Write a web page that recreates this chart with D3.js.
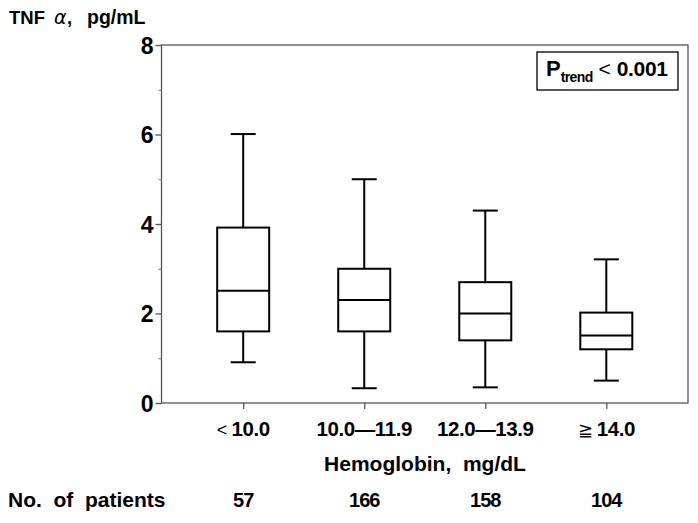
<!DOCTYPE html>
<html><head><meta charset="utf-8">
<script src="https://cdn.jsdelivr.net/npm/d3@7"></script>
<style>body{margin:0;background:#fff}svg{display:block}text{font-family:"Liberation Sans",Arial,sans-serif;font-weight:bold;fill:#000;white-space:pre}</style>
</head><body>
<script>
const categories = ["< 10.0", "10.0\u201411.9", "12.0\u201413.9", "\u2267 14.0"];
const patients = [57, 166, 158, 104];
const whiskerLow = [0.91, 0.33, 0.35, 0.50];
const q1 = [1.60, 1.60, 1.40, 1.20];
const median = [2.51, 2.30, 2.00, 1.51];
const q3 = [3.92, 3.00, 2.70, 2.02];
const whiskerHigh = [6.01, 5.00, 4.30, 3.21];
const yTicks = [0, 2, 4, 6, 8];
const yMinor = [1, 3, 5, 7];

const W = 698, H = 523;
const L = 161.5, R = 688, T = 45, B = 403;
const svg = d3.select("body").append("svg").attr("width", W).attr("height", H);

const x = d3.scalePoint().domain(categories).range([L, R]).padding(0.675);
const y = d3.scaleLinear().domain([0, 8]).range([B, T]);

// frame
svg.append("rect").attr("x", L).attr("y", T).attr("width", R - L).attr("height", B - T)
  .attr("fill", "none").attr("stroke", "#555").attr("stroke-width", 1.3);

// y axis
const ya = svg.append("g").attr("transform", `translate(${L},0)`)
  .call(d3.axisLeft(y).tickValues(yTicks).tickSize(6).tickFormat(d3.format("d")));
ya.select(".domain").remove();
ya.selectAll("line").attr("stroke", "#555").attr("stroke-width", 1.3);
ya.selectAll("text").attr("font-size", 23).attr("x", -8).attr("dy", "0.36em")
  .style("font-family", '"Liberation Sans",Arial,sans-serif').style("font-weight", "bold").attr("fill", "#000");
const ym = svg.append("g").attr("transform", `translate(${L},0)`)
  .call(d3.axisLeft(y).tickValues(yMinor).tickSize(3).tickFormat(""));
ym.select(".domain").remove();
ym.selectAll("line").attr("stroke", "#777").attr("stroke-width", 1);

// x axis
const xa = svg.append("g").attr("transform", `translate(0,${B})`)
  .call(d3.axisBottom(x).tickSize(6).tickFormat(""));
xa.select(".domain").remove();
xa.selectAll("line").attr("stroke", "#555").attr("stroke-width", 1.3);

// x tick labels
svg.append("g").selectAll("text").data(categories).join("text")
  .attr("x", d => x(d)).attr("y", 436).attr("text-anchor", "middle")
  .attr("font-size", 20.5).attr("letter-spacing", -0.4)
  .each(function(d) {
    const t = d3.select(this);
    if (d.startsWith("<") || d.startsWith("\u2267")) {
      t.append("tspan").attr("font-weight", "normal").attr("font-size", 18).text(d[0] + " ");
      t.append("tspan").text(d.slice(2));
    } else t.text(d);
  });

// boxes
const bw = 52, cw = 25;
const g = svg.append("g").attr("stroke", "#000").attr("stroke-width", 2).attr("fill", "none");
categories.forEach((c, i) => {
  const cx = x(c);
  g.append("line").attr("x1", cx).attr("x2", cx).attr("y1", y(whiskerHigh[i])).attr("y2", y(q3[i]));
  g.append("line").attr("x1", cx).attr("x2", cx).attr("y1", y(q1[i])).attr("y2", y(whiskerLow[i]));
  g.append("line").attr("x1", cx - cw / 2).attr("x2", cx + cw / 2).attr("y1", y(whiskerHigh[i])).attr("y2", y(whiskerHigh[i]));
  g.append("line").attr("x1", cx - cw / 2).attr("x2", cx + cw / 2).attr("y1", y(whiskerLow[i])).attr("y2", y(whiskerLow[i]));
  g.append("rect").attr("x", cx - bw / 2).attr("width", bw).attr("y", y(q3[i])).attr("height", y(q1[i]) - y(q3[i]));
  g.append("line").attr("x1", cx - bw / 2).attr("x2", cx + bw / 2).attr("y1", y(median[i])).attr("y2", y(median[i]));
});

// legend box
svg.append("rect").attr("x", 537).attr("y", 52).attr("width", 141).attr("height", 38)
  .attr("fill", "#fff").attr("stroke", "#000").attr("stroke-width", 1.3);
const pt = svg.append("text").attr("x", 546).attr("y", 76).attr("font-size", 22);
pt.append("tspan").text("P");
pt.append("tspan").attr("font-size", 14).attr("dy", 6).attr("letter-spacing", -0.6).text("trend");
pt.append("tspan").attr("dy", -6).attr("font-weight", "normal").attr("font-size", 21).text(" < ");
pt.append("tspan").attr("font-size", 21).attr("letter-spacing", -0.3).text("0.001");

// title
const tt = svg.append("text").attr("y", 24).attr("font-size", 18.5);
tt.append("tspan").attr("x", 9).text("TNF");
tt.append("tspan").attr("x", 54).attr("font-weight", "normal").attr("font-style", "italic").attr("font-size", 19).attr("font-family", "DejaVu Sans").text("\u03b1");
tt.append("tspan").attr("x", 67).text(",");
tt.append("tspan").attr("x", 87).attr("font-size", 19.5).text("pg/mL");

// x title
svg.append("text").attr("x", 425).attr("y", 471).attr("text-anchor", "middle").attr("font-size", 21)
  .text("Hemoglobin,  mg/dL");

// patients row
svg.append("text").attr("x", 8).attr("y", 507).attr("font-size", 21).text("No.  of  patients");
svg.append("g").selectAll("text").data(patients).join("text")
  .attr("x", (d, i) => x(categories[i])).attr("y", 507).attr("text-anchor", "middle")
  .attr("font-size", 20).attr("letter-spacing", -1).text(d => d);
</script>
</body></html>
